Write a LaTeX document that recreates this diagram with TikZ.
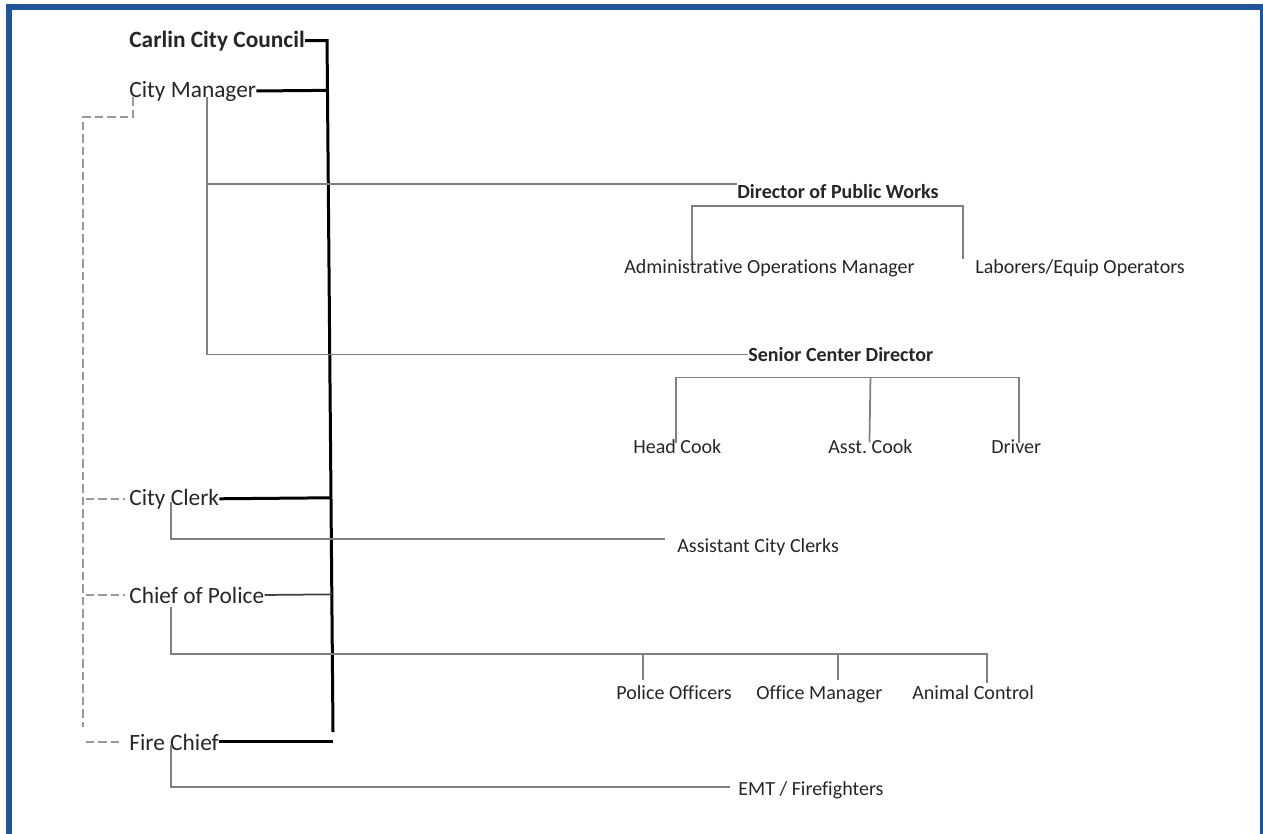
\documentclass[tikz,border=0pt]{standalone}
\usepackage{fontspec}
\setmainfont{Carlito}[Ligatures=NoCommon]
\usepackage{tikz}
\usetikzlibrary{calc,positioning}
\usepackage{xcolor}
\definecolor{frameblue}{RGB}{31,84,158}

\begin{document}
\begin{tikzpicture}[x=0.02cm, y=-0.02cm,
  lead/.style={anchor=base west, inner sep=0pt, text=black!85, font=\fontsize{13.3}{16}\selectfont},
  staff/.style={anchor=base west, inner sep=0pt, text=black!85, font=\fontsize{11.4}{14}\selectfont},
  spine/.style={black, line width=0.06cm},
  link/.style={black!50, line width=0.035cm},
  dashlink/.style={black!40, line width=0.035cm, dash pattern=on 0.17cm off 0.08cm}]

\useasboundingbox (0,0) rectangle (1263,833);

% Blue frame round the page (open at the bottom)
\draw[frameblue, line width=0.12cm] (9,7) rectangle (1263,860);

% Council and the officers under it
\node[lead, font=\bfseries\fontsize{13.3}{16}\selectfont] (council) at (129,47) {Carlin City Council};
\node[lead] (mgr) at (129,97) {City Manager};
\node[lead] (clerk) at (129,505) {City Clerk};
\node[lead] (police) at (129,603) {Chief of Police};
\node[lead] (fire) at (129,750) {Fire Chief};

% Departments and staff
\node[staff, font=\bfseries\fontsize{11.4}{14}\selectfont] (pw) at (737,198.5) {Director of Public Works};
\node[staff] (aom) at (624,273.5) {Administrative Operations Manager};
\node[staff] (lab) at (975,273.5) {Laborers/Equip Operators};
\node[staff, font=\bfseries\fontsize{11.4}{14}\selectfont] (sc) at (748,361.5) {Senior Center Director};
\node[staff] (head) at (633,453.5) {Head Cook};
\node[staff] (asst) at (828,453.5) {Asst.\ Cook};
\node[staff] (driver) at (991,453.5) {Driver};
\node[staff] (acc) at (677,552.5) {Assistant City Clerks};
\node[staff] (po) at (616,699.5) {Police Officers};
\node[staff] (om) at (756,699.5) {Office Manager};
\node[staff] (ac) at (912,699.5) {Animal Control};
\node[staff] (emt) at (738,795.5) {EMT / Firefighters};

% Thick line down from the council
\coordinate (spinebot) at (333,732);
\draw[spine] (council.east) -- ++(22,0) coordinate (spinetop) -- (spinebot);
\draw[spine] (mgr.east) -- ($(spinetop)!(mgr.east)!(spinebot)$);
\draw[spine] (clerk.east) -- ($(spinetop)!(clerk.east)!(spinebot)$);
\draw[black!75, line width=0.035cm] (police.east) -- ($(spinetop)!(police.east)!(spinebot)$);
\draw[spine] (fire.east) -- (fire.east -| spinebot);

% Dashed lines from the city manager
\coordinate (dashtop) at (83,117);
\coordinate (dashbot) at (83,727);
\draw[dashlink] ($(mgr.base west)+(4,0)$) |- (dashtop) -- (dashbot);
\draw[dashlink, shorten >=0.08cm] ($(dashtop |- clerk.west)+(3,0)$) -- (clerk.west);
\draw[dashlink, shorten >=0.08cm] ($(dashtop |- police.west)+(3,0)$) -- (police.west);
\draw[dashlink, shorten >=0.12cm] ($(dashbot |- fire.west)+(3,0)$) -- (fire.west);

% City manager to the departments
\coordinate (mgrdrop) at ($(mgr.base west)+(78,0)$);
\draw[link] (mgrdrop) |- (pw.north west);
\draw[link] (mgrdrop) |- (sc.west);

% Public works
\coordinate (pwbar) at ($(pw.base)+(0,7.5)$);
\draw[link] ($(aom.north west)+(68,2)$) |- (pwbar) -| ($(lab.north west)+(-12,0)$);

% Senior center
\coordinate (scbar) at ($(sc.base)+(0,16)$);
\draw[link] ($(head.north west)+(43,4)$) |- (scbar) -| ($(driver.north west)+(28,4)$);
\draw[link] ($(asst.north)+(-1,3)$) -- (asst.north |- scbar);

% Clerk
\draw[link] ($(clerk.base west)+(42,-3)$) |- ($(acc.north west)+(-12,1)$);

% Police
\coordinate (polbar) at ($(police.base west)+(42,51)$);
\path ($(po.north west)+(27,-5)$) coordinate (pov) ($(om.north west)+(82,-5)$) coordinate (omv);
\draw[link] ($(police.base west)+(42,4)$) -- (polbar) -| ($(ac.north west)+(75,-2)$);
\draw[link] (pov) -- (pov |- polbar);
\draw[link] (omv) -- (omv |- polbar);

% Fire
\draw[link] ($(fire.base west)+(42,-5)$) |- ($(emt.west)+(-8,-3)$);
\end{tikzpicture}
\end{document}
